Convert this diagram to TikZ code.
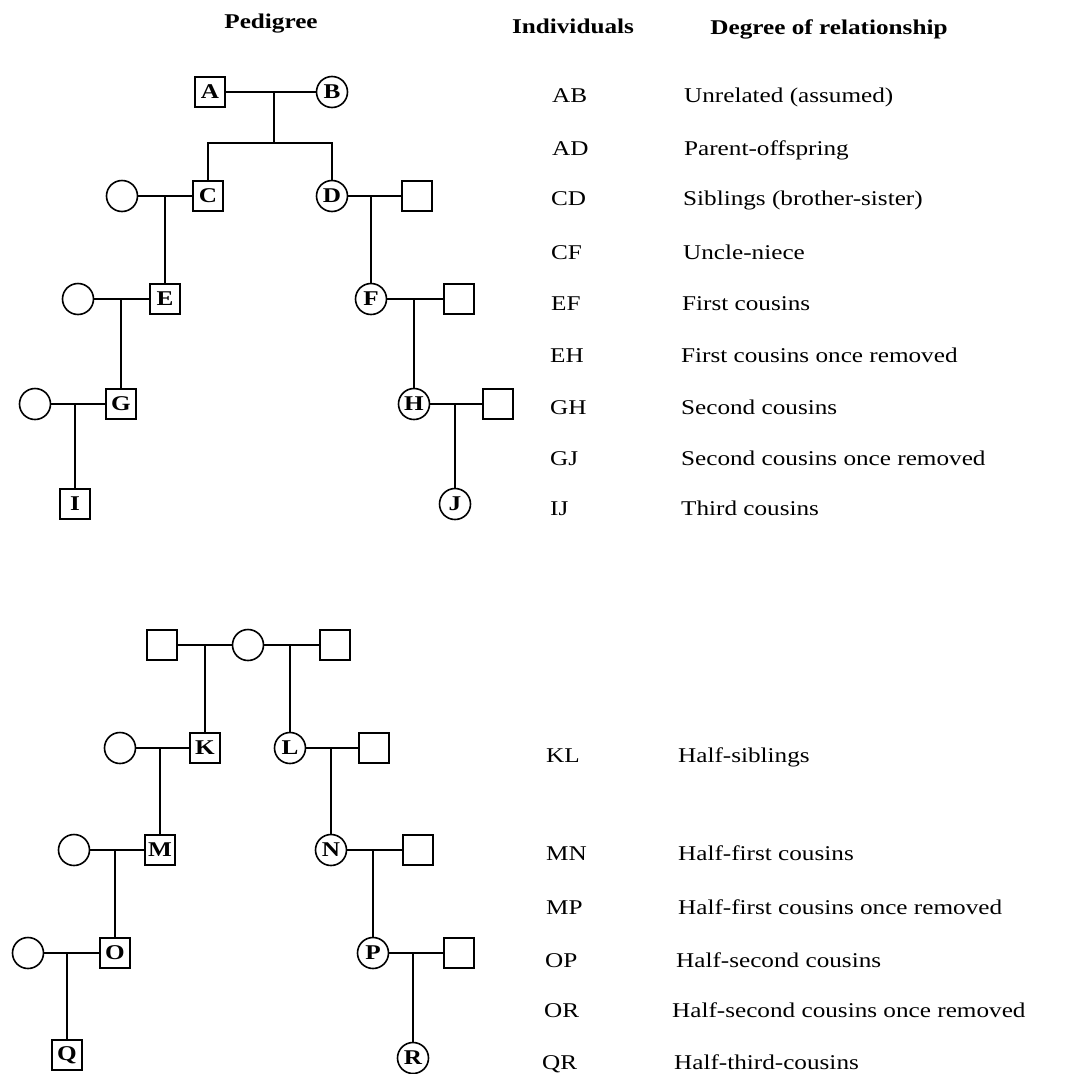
\documentclass[tikz,border=0pt]{standalone}
\usepackage{fontspec}
\setmainfont{Liberation Serif}[FakeStretch=1.2]
\begin{document}
\begin{tikzpicture}[x=1pt,y=-1pt,line width=1.6pt,
    font=\fontsize{21}{25}\selectfont,
    male/.style={draw,rectangle,minimum size=30pt,inner sep=0pt,font=\fontsize{21}{25}\selectfont\bfseries},
    female/.style={draw,circle,minimum size=31pt,inner sep=0pt,font=\fontsize{21}{25}\selectfont\bfseries},
    head/.style={anchor=base,font=\fontsize{21}{25}\selectfont\bfseries},
    pair/.style={anchor=base west},
    degree/.style={anchor=base west}]
  \useasboundingbox (0,0) rectangle (1066,1074);
  % headings
  \node[head] (hped) at (271,28) {Pedigree};
  \node[head] (hind) at (573,33) {Individuals};
  \node[head] (hdeg) at (829,34) {Degree of relationship};
  % full relatives
  \node[male] (A) at (210,92) {A};
  \node[female] (B) at (332,92) {B};
  \node[female] (c1) at (122,196) {};
  \node[male] (C) at (208,196) {C};
  \node[female] (D) at (332,196) {D};
  \node[male] (d1) at (417,196) {};
  \node[female] (e1) at (78,299) {};
  \node[male] (E) at (165,299) {E};
  \node[female] (F) at (371,299) {F};
  \node[male] (f1) at (459,299) {};
  \node[female] (g1) at (35,404) {};
  \node[male] (G) at (121,404) {G};
  \node[female] (H) at (414,404) {H};
  \node[male] (h1) at (498,404) {};
  \node[male] (I) at (75,504) {I};
  \node[female] (J) at (455,504) {J};
  \coordinate (ab) at (274,92);
  \coordinate (sib) at (274,143);
  \draw (A) -- (B);
  \draw (ab) -- (sib);
  \draw (C) |- (sib) -| (D);
  \draw (c1) -- (C);
  \draw (D) -- (d1);
  \draw (E) -- (E |- C);
  \draw (F) -- (F |- D);
  \draw (e1) -- (E);
  \draw (F) -- (f1);
  \draw (G) -- (G |- E);
  \draw (H) -- (H |- F);
  \draw (g1) -- (G);
  \draw (H) -- (h1);
  \draw (I) -- (I |- G);
  \draw (J) -- (J |- H);
  % half relatives
  \node[male] (s1) at (162,645) {};
  \node[female] (w) at (248,645) {};
  \node[male] (s2) at (335,645) {};
  \node[female] (k1) at (120,748) {};
  \node[male] (K) at (205,748) {K};
  \node[female] (L) at (290,748) {L};
  \node[male] (l1) at (374,748) {};
  \node[female] (m1) at (74,850) {};
  \node[male] (M) at (160,850) {M};
  \node[female] (N) at (331,850) {N};
  \node[male] (n1) at (418,850) {};
  \node[female] (o1) at (28,953) {};
  \node[male] (O) at (115,953) {O};
  \node[female] (P) at (373,953) {P};
  \node[male] (p1) at (459,953) {};
  \node[male] (Q) at (67,1055) {Q};
  \node[female] (R) at (413,1058) {R};
  \draw (s1) -- (w) -- (s2);
  \draw (K) -- (K |- s1);
  \draw (L) -- (L |- w);
  \draw (k1) -- (K);
  \draw (L) -- (l1);
  \draw (M) -- (M |- K);
  \draw (N) -- (N |- L);
  \draw (m1) -- (M);
  \draw (N) -- (n1);
  \draw (O) -- (O |- M);
  \draw (P) -- (P |- N);
  \draw (o1) -- (O);
  \draw (P) -- (p1);
  \draw (Q) -- (Q |- O);
  \draw (R) -- (R |- P);
  % table
  \node[pair] (pAB) at (548,102) {AB};
  \node[degree] (dAB) at (680,102) {Unrelated (assumed)};
  \node[pair] (pAD) at (548,155) {AD};
  \node[degree] (dAD) at (680,155) {Parent-offspring};
  \node[pair] (pCD) at (547,205) {CD};
  \node[degree] (dCD) at (679,205) {Siblings (brother-sister)};
  \node[pair] (pCF) at (547,259) {CF};
  \node[degree] (dCF) at (679,259) {Uncle-niece};
  \node[pair] (pEF) at (547,310) {EF};
  \node[degree] (dEF) at (678,310) {First cousins};
  \node[pair] (pEH) at (546,362) {EH};
  \node[degree] (dEH) at (677,362) {First cousins once removed};
  \node[pair] (pGH) at (546,414) {GH};
  \node[degree] (dGH) at (677,414) {Second cousins};
  \node[pair] (pGJ) at (546,465) {GJ};
  \node[degree] (dGJ) at (677,465) {Second cousins once removed};
  \node[pair] (pIJ) at (546,515) {IJ};
  \node[degree] (dIJ) at (677,515) {Third cousins};
  \node[pair] (pKL) at (542,762) {KL};
  \node[degree] (dKL) at (674,762) {Half-siblings};
  \node[pair] (pMN) at (542,860) {MN};
  \node[degree] (dMN) at (674,860) {Half-first cousins};
  \node[pair] (pMP) at (542,914) {MP};
  \node[degree] (dMP) at (674,914) {Half-first cousins once removed};
  \node[pair] (pOP) at (541,967) {OP};
  \node[degree] (dOP) at (672,967) {Half-second cousins};
  \node[pair] (pOR) at (540,1017) {OR};
  \node[degree] (dOR) at (668,1017) {Half-second cousins once removed};
  \node[pair] (pQR) at (538,1069) {QR};
  \node[degree] (dQR) at (670,1069) {Half-third-cousins};
\end{tikzpicture}
\end{document}
